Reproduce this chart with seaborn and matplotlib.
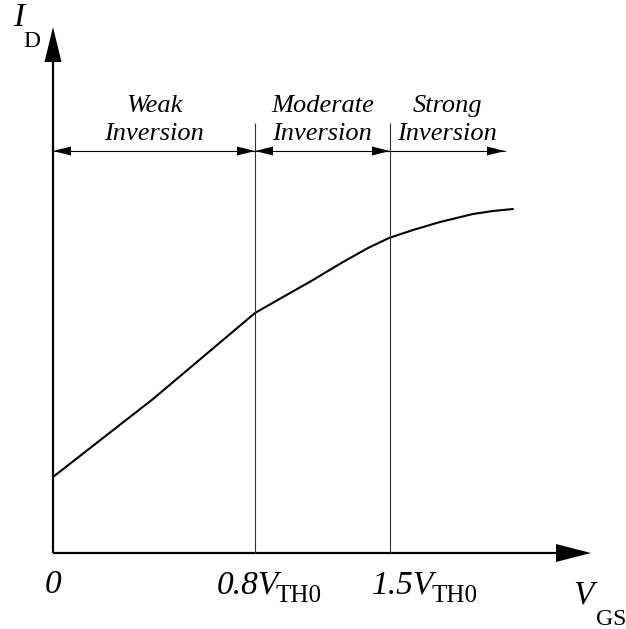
import matplotlib
matplotlib.use("Agg")
import matplotlib.pyplot as plt
import seaborn as sns
import pandas as pd

# ---- data (arbitrary units along the drawn axes) ----
vgs_pts = [0, 100, 170, 202, 230, 260, 290, 315, 336, 360, 387, 420, 440, 460]
id_pts = [76, 154, 213, 240, 256, 273, 291, 305, 315, 323, 331, 339, 342, 344]
region_bounds = [0, 202, 337, 452]
region_top = ["Weak", "Moderate", "Strong"]
region_bottom = ["Inversion", "Inversion", "Inversion"]
tick_positions = [0, 202, 337]
tick_labels = ["0", "0.8", "1.5"]
tick_subs = ["", "TH0", "TH0"]

sns.set_theme(style="white")
plt.rcParams["font.family"] = ["Liberation Serif", "DejaVu Serif"]

fig = plt.figure(figsize=(6.26, 6.29), dpi=100)
ax = fig.add_axes([0, 0, 1, 1])
ax.set_xlim(-53, 573)
ax.set_ylim(-76, 553)
ax.axis("off")

df = pd.DataFrame({"VGS": vgs_pts, "ID": id_pts})
sns.lineplot(data=df, x="VGS", y="ID", ax=ax, color="black", lw=1.5, sort=False)

# axes with big arrowheads
ax.plot([0, 0], [0, 495], color="black", lw=1.6, solid_capstyle="butt")
ax.plot([0, 506], [0, 0], color="black", lw=1.6, solid_capstyle="butt")
ax.fill([-8.5, 8.5, 0], [491, 491, 526], color="black", lw=0)
ax.fill([503, 503, 538], [-9, 9, 0], color="black", lw=0)

# region boundaries
ax.vlines(region_bounds[1:3], 0, 430, color="#333333", lw=0.8)

# double arrows
ya = 402
hl, hw = 18, 4.5
for i, (a, b) in enumerate(zip(region_bounds[:-1], region_bounds[1:])):
    ax.plot([a, b], [ya, ya], color="black", lw=0.8)
    ax.fill([b, b - hl, b - hl], [ya, ya + hw, ya - hw], color="black", lw=0)
    if i < 2:
        ax.fill([a, a + hl, a + hl], [ya, ya + hw, ya - hw], color="black", lw=0)
    cx = (a + b) / 2
    ax.text(cx, 447, region_top[i], ha="center", va="center",
            fontsize=19, style="italic", color="black")
    ax.text(cx, 419, region_bottom[i], ha="center", va="center",
            fontsize=19, style="italic", color="black")

# tick labels
tick_left = [-8, 164, 319]
sub_left = [0, 223, 378]
for pos, lab, sub, xl, xs in zip(tick_positions, tick_labels, tick_subs, tick_left, sub_left):
    if sub:
        ax.text(xl, -40, lab + "V", ha="left", va="baseline",
                fontsize=24, style="italic", color="black")
        ax.text(xs, -49, sub, ha="left", va="baseline",
                fontsize=18, color="black")
    else:
        ax.text(xl, -40, lab, ha="left", va="baseline",
                fontsize=24, style="italic", color="black")

# axis labels
ax.text(520, -50, "V", ha="left", va="baseline", fontsize=24, style="italic", color="black")
ax.text(543, -72, "GS", ha="left", va="baseline", fontsize=17, color="black")
ax.text(-40, 527, "I", ha="left", va="baseline", fontsize=24, style="italic", color="black")
ax.text(-30, 506, "D", ha="left", va="baseline", fontsize=17, color="black")

fig.savefig("out.png", dpi=100)
